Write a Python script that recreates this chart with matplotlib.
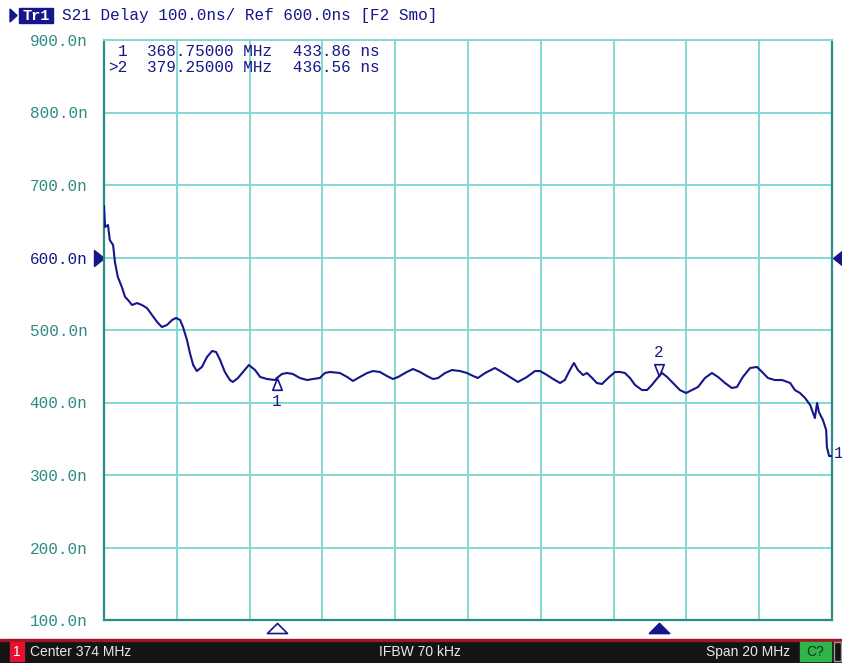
"""S21 group delay trace, network-analyzer style screen."""

import matplotlib

matplotlib.use("Agg")
import matplotlib.pyplot as plt
import matplotlib.transforms as mtransforms
from matplotlib.patches import Polygon, Rectangle
from matplotlib.path import Path

W, H = 842, 663

# trace: frequency (MHz) vs delay (ns)
freq_mhz = [
    364.00, 364.03, 364.11, 364.16, 364.25, 364.30, 364.38, 364.49, 364.58, 364.66,
    364.77, 364.91, 365.04, 365.18, 365.32, 365.46, 365.59, 365.73, 365.87, 365.98,
    366.09, 366.17, 366.28, 366.36, 366.45, 366.55, 366.69, 366.83, 366.97, 367.08,
    367.19, 367.32, 367.46, 367.54, 367.68, 367.82, 367.98, 368.15, 368.29, 368.48,
    368.70, 368.75, 368.89, 369.03, 369.19, 369.38, 369.58, 369.74, 369.93, 370.07,
    370.21, 370.48, 370.68, 370.84, 371.03, 371.23, 371.39, 371.58, 371.77, 371.94,
    372.08, 372.32, 372.49, 372.68, 372.87, 373.04, 373.18, 373.37, 373.56, 373.78,
    373.97, 374.14, 374.27, 374.47, 374.74, 374.93, 375.15, 375.37, 375.62, 375.84,
    375.98, 376.17, 376.34, 376.53, 376.66, 376.80, 376.91, 377.02, 377.16, 377.27,
    377.41, 377.54, 377.68, 377.85, 378.04, 378.18, 378.31, 378.45, 378.59, 378.78,
    378.92, 379.05, 379.25, 379.33, 379.47, 379.63, 379.82, 379.99, 380.15, 380.32,
    380.51, 380.70, 380.87, 381.06, 381.25, 381.39, 381.55, 381.75, 381.94, 382.08,
    382.24, 382.43, 382.63, 382.85, 382.98, 383.12, 383.26, 383.40, 383.53, 383.59,
    383.64, 383.75, 383.84, 383.86, 383.92, 384.00,
]
delay_ns = [
    671.0, 642.1, 644.8, 624.1, 617.2, 593.8, 573.1, 559.3, 545.5, 541.4,
    534.5, 537.2, 534.5, 530.3, 520.7, 511.0, 504.1, 506.9, 513.8, 516.6,
    513.8, 504.1, 486.2, 468.3, 451.7, 443.4, 449.0, 462.8, 471.0, 469.7,
    458.6, 442.1, 431.0, 428.3, 433.8, 442.1, 451.7, 444.8, 435.2, 432.4,
    431.0, 433.86, 439.3, 440.7, 439.3, 433.8, 431.0, 432.4, 433.8, 440.7,
    442.1, 440.7, 435.2, 429.7, 435.2, 440.7, 443.4, 442.1, 436.6, 432.4,
    435.2, 442.1, 446.2, 442.1, 436.6, 432.4, 433.8, 440.7, 444.8, 443.4,
    440.7, 436.6, 433.8, 440.7, 447.6, 442.1, 435.2, 428.3, 435.2, 443.4,
    443.4, 437.9, 432.4, 426.9, 431.0, 444.8, 454.5, 444.8, 437.9, 440.7,
    433.8, 426.9, 425.5, 433.8, 442.1, 442.1, 440.7, 433.8, 424.1, 417.2,
    417.2, 424.1, 436.56, 440.7, 435.2, 426.9, 417.2, 413.1, 417.2, 421.4,
    433.8, 440.7, 435.2, 426.9, 420.0, 421.4, 435.2, 447.6, 449.0, 442.1,
    433.8, 431.0, 431.0, 426.9, 417.2, 413.1, 406.2, 396.6, 378.6, 399.3,
    386.9, 375.9, 362.1, 338.6, 326.2, 326.2,
]

marker_ids = ["1", "2"]
marker_freq = [368.75, 379.25]
marker_delay = [433.86, 436.56]
active_marker = 1

center_mhz, span_mhz = 374, 20
ref_ns, scale_ns = 600.0, 100.0
y_ticks = [100, 200, 300, 400, 500, 600, 700, 800, 900]
y_tick_labels = [f"{v:.1f}n" for v in y_ticks]

NAVY = "#16168a"
GRID = "#84d8d2"
FRAME = "#2c8c88"
LABEL = "#2e8a84"
MONO = "Liberation Mono"


def fx(x):
    return x / W


def fy(y):
    return 1 - y / H


def tri_marker(pts):
    return Path(pts + [pts[0]], closed=True)


fig = plt.figure(figsize=(W / 100, H / 100), dpi=100)
fig.patch.set_facecolor("white")

# plot area in pixels: x 104..832, y 40..620
ax = fig.add_axes([fx(104), fy(620), (832 - 104) / W, (620 - 40) / H])
ax.set_xlim(center_mhz - span_mhz / 2, center_mhz + span_mhz / 2)
ax.set_ylim(100, 900)
ax.set_xticks([center_mhz - span_mhz / 2 + i * span_mhz / 10 for i in range(11)])
ax.set_yticks(y_ticks)
ax.set_xticklabels([])
ax.set_yticklabels(y_tick_labels, fontfamily=MONO, fontsize=11.5)
for lbl, v in zip(ax.get_yticklabels(), y_ticks):
    lbl.set_color(NAVY if v == ref_ns else LABEL)
ax.tick_params(length=0, pad=12)
ax.grid(True, color=GRID, lw=1.4)
ax.set_axisbelow(True)
for side in ["left", "right", "bottom"]:
    ax.spines[side].set_color(FRAME)
    ax.spines[side].set_linewidth(1.6)
ax.spines["top"].set_color(GRID)
ax.spines["top"].set_linewidth(1.4)

ax.plot(freq_mhz, delay_ns, color=NAVY, lw=1.5, zorder=3)

# markers on the trace
up = tri_marker([(0, 0), (-0.4, -1), (0.4, -1)])
down = tri_marker([(0, 0), (-0.4, 1), (0.4, 1)])
for i, (mid, f, d) in enumerate(zip(marker_ids, marker_freq, marker_delay)):
    shape = up if i == 0 else down
    ax.plot(f, d, marker=shape, ms=17, mfc="white", mec=NAVY, mew=1.2, zorder=4)
    dy = -17 if i == 0 else 17
    ax.annotate(mid, (f, d), xytext=(0, dy), textcoords="offset points",
                ha="center", va="center", color=NAVY, fontfamily=MONO,
                fontsize=11.5, zorder=5)

# marker positions along the bottom edge
flat = tri_marker([(0, 0.5), (-1, -0.5), (1, -0.5)])
btrans = mtransforms.blended_transform_factory(ax.transData, ax.transAxes)
for i, f in enumerate(marker_freq):
    ax.plot(f, -8 / 580, marker=flat, ms=14.5, transform=btrans, clip_on=False,
            mfc=NAVY if i == active_marker else "white", mec=NAVY, mew=1.2)

# reference level arrows
right = tri_marker([(0.5, 0), (-0.5, 0.8), (-0.5, -0.8)])
left = tri_marker([(-0.5, 0), (0.5, 0.8), (0.5, -0.8)])
rtrans = mtransforms.blended_transform_factory(ax.transAxes, ax.transData)
ax.plot(-5 / 728, ref_ns, marker=right, ms=11.5, color=NAVY, transform=rtrans,
        clip_on=False)
ax.plot(1 + 6 / 728, ref_ns, marker=left, ms=11.5, color=NAVY, transform=rtrans,
        clip_on=False)
fig.text(fx(834), fy(453), "1", color=NAVY, fontfamily=MONO, fontsize=11.5,
         ha="left", va="center")

# marker readout
readout_y = [51, 68]
for i, (mid, f, d, y) in enumerate(zip(marker_ids, marker_freq, marker_delay, readout_y)):
    tag = ">" + mid if i == active_marker else mid
    x0 = 108 if i == active_marker else 118
    fig.text(fx(x0), fy(y), tag, color=NAVY, fontfamily=MONO, fontsize=11.5, va="center")
    fig.text(fx(147), fy(y), f"{f:.5f} MHz", color=NAVY, fontfamily=MONO,
             fontsize=11.5, va="center")
    fig.text(fx(293), fy(y), f"{d:.2f} ns", color=NAVY, fontfamily=MONO,
             fontsize=11.5, va="center")

# header line
fig.add_artist(Polygon([(fx(10), fy(9)), (fx(17), fy(15.5)), (fx(10), fy(22))],
                       closed=True, color=NAVY))
fig.add_artist(Rectangle((fx(19), fy(23)), fx(34), 15 / H, color=NAVY))
fig.text(fx(36), fy(15.5), "Tr1", color="white", fontfamily=MONO, fontsize=11,
         fontweight="bold", ha="center", va="center")
fig.text(fx(62), fy(15.5),
         f"S21 Delay {scale_ns:.1f}ns/ Ref {ref_ns:.1f}ns [F2 Smo]",
         color=NAVY, fontfamily=MONO, fontsize=11.5, va="center")

# status bar
fig.add_artist(Rectangle((0, 0), 1, fy(641), color="#141414"))
fig.add_artist(Rectangle((0, fy(641)), 1, 2.2 / H, color="#a01828"))
fig.add_artist(Rectangle((fx(10), fy(661)), fx(14), 19 / H, color="#e3122e"))
fig.text(fx(17), fy(652), "1", color="white", fontsize=10, fontfamily="Liberation Sans",
         ha="center", va="center")
fig.text(fx(30), fy(652), f"Center {center_mhz} MHz", color="#e8e8e8", fontsize=10,
         fontfamily="Liberation Sans", va="center")
fig.text(fx(420), fy(652), "IFBW 70 kHz", color="#e8e8e8", fontsize=10,
         fontfamily="Liberation Sans", ha="center", va="center")
fig.text(fx(790), fy(652), f"Span {span_mhz} MHz", color="#e8e8e8", fontsize=10,
         fontfamily="Liberation Sans", ha="right", va="center")
fig.add_artist(Rectangle((fx(800), fy(661)), fx(31), 19 / H, color="#2fb54a"))
fig.text(fx(815.5), fy(652), "C?", color="#10301a", fontsize=10,
         fontfamily="Liberation Sans", ha="center", va="center")
fig.add_artist(Rectangle((fx(834), fy(661)), fx(7), 19 / H, fill=False,
                         ec="#9a9a9a", lw=1))

fig.savefig("out.png", dpi=100)
plt.close(fig)
